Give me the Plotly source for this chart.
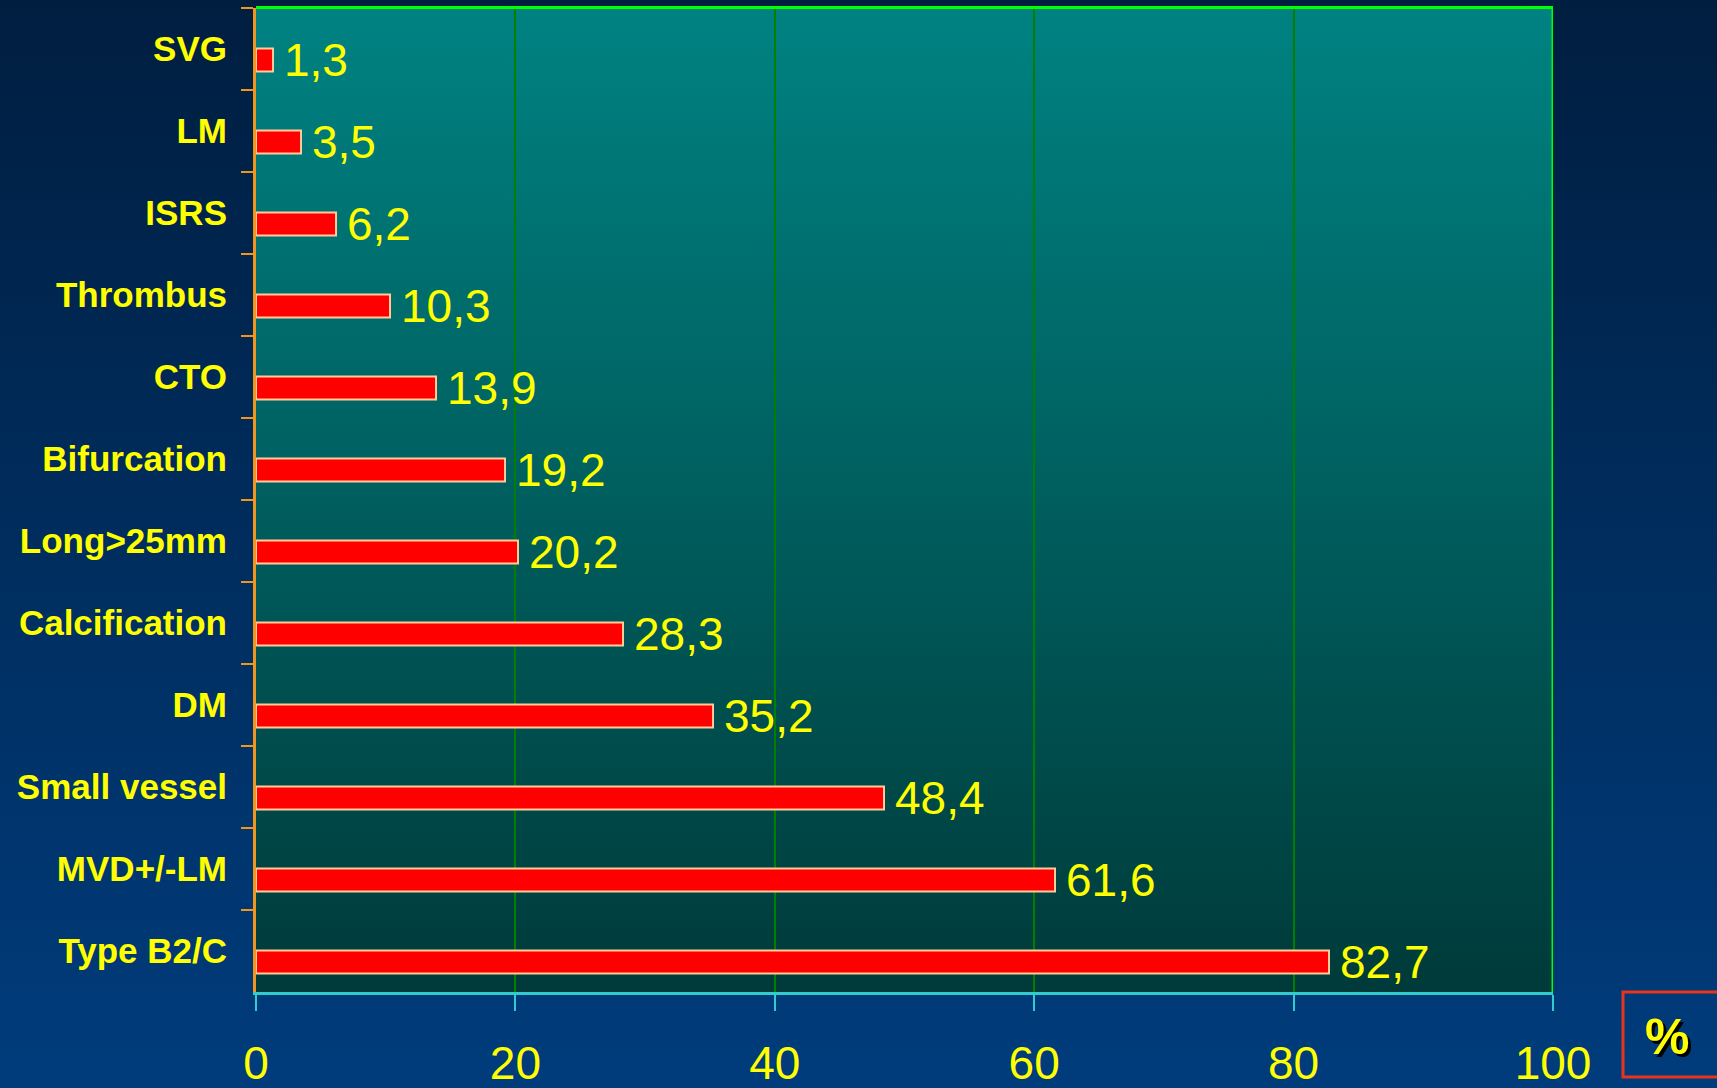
import base64
import plotly.graph_objects as go

# Lesion / patient characteristics, top to bottom
categories = ["SVG", "LM", "ISRS", "Thrombus", "CTO", "Bifurcation", "Long>25mm",
              "Calcification", "DM", "Small vessel", "MVD+/-LM", "Type B2/C"]
percent = [1.3, 3.5, 6.2, 10.3, 13.9, 19.2, 20.2, 28.3, 35.2, 48.4, 61.6, 82.7]
x_ticks = [0, 20, 40, 60, 80, 100]

W, H = 1717, 1088
X_DOM = [256 / W, 1553 / W]
Y_DOM = [1 - 992 / H, 1 - 7.5 / H]

YELLOW = "#FFFF00"
FONT = "Arial, Liberation Sans, sans-serif"


def gradient_uri(top, bottom):
    svg = (
        '<svg xmlns="http://www.w3.org/2000/svg" width="100" height="100" preserveAspectRatio="none">'
        '<defs><linearGradient id="g" x1="0" y1="0" x2="0" y2="1">'
        f'<stop offset="0" stop-color="{top}"/><stop offset="1" stop-color="{bottom}"/>'
        '</linearGradient></defs><rect width="100" height="100" fill="url(#g)"/></svg>'
    )
    return "data:image/svg+xml;base64," + base64.b64encode(svg.encode()).decode()


fig = go.Figure()

fig.add_trace(go.Bar(
    x=percent,
    y=categories,
    orientation="h",
    width=0.28,
    offset=0,
    marker=dict(color="#FF0000", line=dict(color="#FFCC99", width=2)),
    hoverinfo="skip",
))

# Value labels beside each bar, comma as decimal separator
for cat, val in zip(categories, percent):
    fig.add_annotation(
        x=val, y=cat, xref="x", yref="y",
        text=f"{val:.1f}".replace(".", ","),
        showarrow=False, xanchor="left", yanchor="middle",
        xshift=9, yshift=-11.5,
        font=dict(family=FONT, size=46, color=YELLOW),
    )

fig.update_layout(
    width=W, height=H,
    margin=dict(l=0, r=0, t=0, b=0, autoexpand=False),
    paper_bgcolor="#002A55",
    plot_bgcolor="rgba(0,0,0,0)",
    showlegend=False,
    bargap=0,
    images=[
        dict(source=gradient_uri("#001E40", "#003C7C"), xref="paper", yref="paper",
             x=0, y=1, sizex=1, sizey=1, xanchor="left", yanchor="top",
             sizing="stretch", layer="below"),
        dict(source=gradient_uri("#008282", "#003A3A"), xref="paper", yref="paper",
             x=X_DOM[0], y=Y_DOM[1], sizex=X_DOM[1] - X_DOM[0], sizey=Y_DOM[1] - Y_DOM[0],
             xanchor="left", yanchor="top", sizing="stretch", layer="below"),
    ],
    xaxis=dict(
        domain=X_DOM, range=[0, 100], tickvals=x_ticks, automargin=False,
        showgrid=True, gridcolor="#008000", gridwidth=2, zeroline=False,
        showline=True, linecolor="#33CCCC", linewidth=3,
        ticks="outside", ticklen=16, tickwidth=2, tickcolor="#33CCCC",
        ticklabelstandoff=13,
        tickfont=dict(family=FONT, size=46, color=YELLOW),
        fixedrange=True,
    ),
    yaxis=dict(
        domain=Y_DOM, type="category", categoryorder="array", categoryarray=categories,
        range=[11.5, -0.5], tickson="boundaries", automargin=False,
        showgrid=False, zeroline=False,
        showline=True, linecolor="#F0961E", linewidth=3,
        ticks="outside", ticklen=12, tickwidth=2, tickcolor="#F0961E",
        ticklabelstandoff=19,
        tickfont=dict(family=FONT, size=35, color=YELLOW, weight="bold"),
        fixedrange=True,
    ),
    shapes=[
        # bright green frame on top and right of the plot area
        dict(type="line", xref="x", yref="paper", x0=0, x1=100, y0=Y_DOM[1], y1=Y_DOM[1],
             line=dict(color="#00FF00", width=3)),
        dict(type="line", xref="x", yref="paper", x0=100, x1=100, y0=Y_DOM[0], y1=Y_DOM[1],
             line=dict(color="#00FF00", width=3)),
        # unit box
        dict(type="rect", xref="paper", yref="paper",
             x0=1623 / W, x1=1.01, y0=1 - 1077 / H, y1=1 - 992 / H,
             line=dict(color="#E8341C", width=3), fillcolor="rgba(0,0,0,0)"),
    ],
)

fig.add_annotation(
    x=1667 / W, y=1 - 1037 / H, xref="paper", yref="paper",
    text="%", showarrow=False, xanchor="center", yanchor="middle",
    font=dict(family=FONT, size=50, color=YELLOW, weight="bold",
              shadow="3px 3px 0px #000000"),
)

fig.write_html("out.html")
